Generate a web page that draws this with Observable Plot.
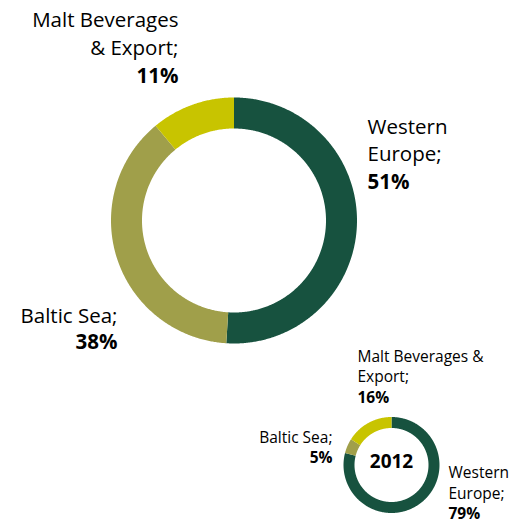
<!DOCTYPE html>
<html>
<head>
<meta charset="utf-8">
<script src="https://cdn.jsdelivr.net/npm/d3@7"></script>
<script src="https://cdn.jsdelivr.net/npm/@observablehq/plot@0.6"></script>
<style>
  html, body { margin: 0; padding: 0; background: #fff; }
  #chart svg { display: block; }
</style>
</head>
<body>
<div id="chart"></div>
<script>
// ---- data ----
const segments = ["Western Europe", "Baltic Sea", "Malt Beverages & Export"];
const shareLarge = [51, 38, 11];   // main donut (%)
const share2012 = [79, 5, 16];     // 2012 donut (%)
const smallYear = "2012";
const labelLinesLarge = [["Western", "Europe;"], ["Baltic Sea;"], ["Malt Beverages", "& Export;"]];
const labelLinesSmall = [["Western", "Europe;"], ["Baltic Sea;"], ["Malt Beverages &", "Export;"]];
const segmentColors = ["#17523f", "#a09f4a", "#c8c400"];

// ---- layout (pixels) ----
const W = 514, H = 525;
const donuts = {
  large: {cx: 233.5, cy: 220, r0: 92, r1: 123, values: shareLarge, lines: labelLinesLarge, fs: 20.5},
  small: {cx: 391, cy: 464.5, r0: 37, r1: 48, values: share2012, lines: labelLinesSmall, fs: 15.5}
};
const labelLayout = [
  {donut: "large", i: 0, x: 367, y: 133, anchor: "start", lh: 27.5},
  {donut: "large", i: 1, x: 117, y: 322, anchor: "end", lh: 26},
  {donut: "large", i: 2, x: 178, y: 26, anchor: "end", lh: 28},
  {donut: "small", i: 0, x: 448, y: 477.5, anchor: "start", lh: 20.5},
  {donut: "small", i: 1, x: 332, y: 442, anchor: "end", lh: 20.5},
  {donut: "small", i: 2, x: 357, y: 361, anchor: "start", lh: 20.5}
];

// ---- build ring polygons from the values ----
const ringPoints = [];
for (const [key, d] of Object.entries(donuts)) {
  const arcs = d3.pie().sort(null)(d.values);
  arcs.forEach((a, i) => {
    const steps = Math.max(8, Math.ceil((a.endAngle - a.startAngle) / (Math.PI / 360)));
    const z = key + "-" + i;
    for (let s = 0; s <= steps; s++) {
      const t = a.startAngle + (a.endAngle - a.startAngle) * s / steps;
      ringPoints.push({z, name: segments[i], x: d.cx + d.r1 * Math.sin(t), y: d.cy - d.r1 * Math.cos(t)});
    }
    for (let s = steps; s >= 0; s--) {
      const t = a.startAngle + (a.endAngle - a.startAngle) * s / steps;
      ringPoints.push({z, name: segments[i], x: d.cx + d.r0 * Math.sin(t), y: d.cy - d.r0 * Math.cos(t)});
    }
  });
}

// ---- label lines ----
const regular = [], bold = [];
for (const L of labelLayout) {
  const d = donuts[L.donut];
  const lines = d.lines[L.i];
  lines.forEach((t, k) => regular.push({text: t, x: L.x, y: L.y + k * L.lh, anchor: L.anchor, fs: d.fs}));
  bold.push({text: d.values[L.i] + "%", x: L.x, y: L.y + lines.length * L.lh, anchor: L.anchor, fs: d.fs});
}

const font = "'Open Sans', Lato, sans-serif";
const textMarks = [];
for (const fs of [donuts.large.fs, donuts.small.fs]) {
  for (const anchor of ["start", "end"]) {
    const r = regular.filter(d => d.fs === fs && d.anchor === anchor);
    const b = bold.filter(d => d.fs === fs && d.anchor === anchor);
    if (r.length) textMarks.push(Plot.text(r, {x: "x", y: "y", text: "text", textAnchor: anchor, lineAnchor: "bottom", fontSize: fs, fill: "#000"}));
    if (b.length) textMarks.push(Plot.text(b, {x: "x", y: "y", text: "text", textAnchor: anchor, lineAnchor: "bottom", fontSize: fs, fontWeight: "bold", fill: "#000"}));
  }
}

const chart = Plot.plot({
  width: W,
  height: H,
  margin: 0,
  style: {fontFamily: font, background: "#fff"},
  x: {domain: [0, W], range: [0, W], axis: null},
  y: {domain: [0, H], range: [0, H], axis: null},
  color: {domain: segments, range: segmentColors},
  marks: [
    Plot.line(ringPoints, {x: "x", y: "y", z: "z", fill: "name", stroke: "none"}),
    ...textMarks,
    Plot.text([{text: smallYear, x: donuts.small.cx, y: 467}], {x: "x", y: "y", text: "text", textAnchor: "middle", lineAnchor: "bottom", fontSize: 19, fontWeight: "bold", fill: "#000"})
  ]
});
document.getElementById("chart").appendChild(chart);
</script>
</body>
</html>
